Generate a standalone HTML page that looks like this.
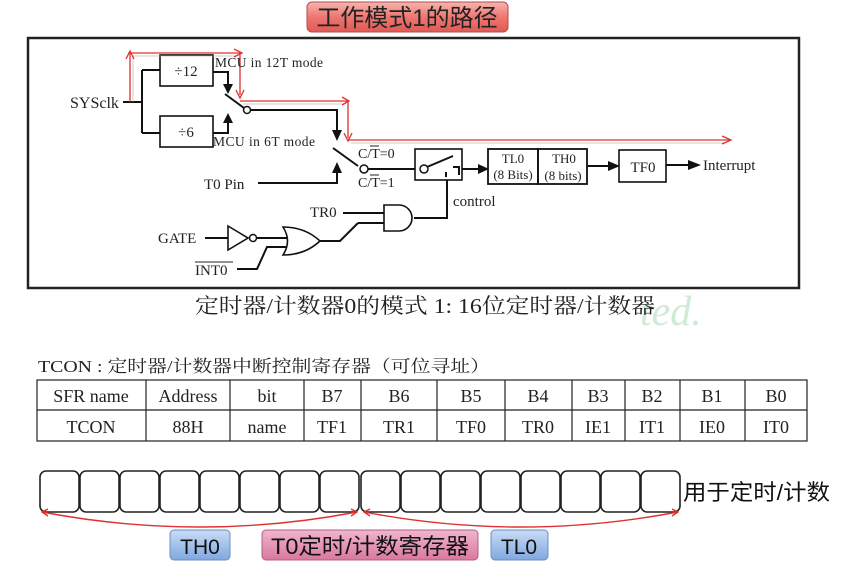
<!DOCTYPE html>
<html><head><meta charset="utf-8"><style>
html,body{margin:0;padding:0;background:#fff;}
svg{display:block;}
.t{font-family:"Liberation Serif","Noto Serif CJK SC",serif;fill:#222;}
.c{font-family:"Liberation Sans","Noto Sans CJK SC",sans-serif;}
</style></head><body>
<svg width="841" height="564" viewBox="0 0 841 564" xmlns="http://www.w3.org/2000/svg">
<defs>
<linearGradient id="rg" x1="0" y1="0" x2="0" y2="1"><stop offset="0" stop-color="#f7b5b0"/><stop offset="0.5" stop-color="#ee7670"/><stop offset="1" stop-color="#e05a55"/></linearGradient>
<linearGradient id="bg" x1="0" y1="0" x2="0" y2="1"><stop offset="0" stop-color="#c9dcf5"/><stop offset="1" stop-color="#7fa8e0"/></linearGradient>
<linearGradient id="pg" x1="0" y1="0" x2="0" y2="1"><stop offset="0" stop-color="#f0b6cc"/><stop offset="1" stop-color="#d9789e"/></linearGradient>
</defs>
<rect x="307" y="2" width="201" height="30" rx="5" fill="url(#rg)" stroke="#b84a45" stroke-width="1"/>
<text x="407" y="26" text-anchor="middle" class="c" font-size="24" fill="#222">工作模式1的路径</text>
<rect x="28" y="38" width="771" height="250" fill="none" stroke="#222" stroke-width="2.5"/>
<g stroke="#111" stroke-width="2" fill="none">
<rect x="160" y="55" width="53" height="31" stroke-width="1.6"/>
<rect x="160" y="116" width="53" height="31" stroke-width="1.6"/>
<path d="M123 102 H142 M142 70 V133 M142 70 H160 M142 133 H160"/>
<path d="M213 72 H228 V86 M213 133 H228 V121"/>
<path d="M225 94 L244 108"/>
<path d="M250 110 H337 V132"/>
<path d="M333 148 L358 166"/>
<path d="M258 183 H337 V170"/>
<path d="M368 169 H415"/>
<rect x="415" y="149" width="47" height="31" stroke-width="1.6"/>
<path d="M427 167 L453 156 M446 172 V177 M453 167 H459 V175"/>
<path d="M462 169 H478"/>
<rect x="488" y="149" width="50" height="35" stroke-width="1.8"/>
<rect x="538" y="149" width="49" height="35" stroke-width="1.8"/>
<path d="M587 166 H609"/>
<rect x="619" y="150" width="47" height="32" stroke-width="1.6"/>
<path d="M666 165 H690"/>
<path d="M414 218 H447 V180"/>
<path d="M343 213 H384 M358 223 H384 M320 241 H340 L358 223"/>
<path d="M384 205 H399 A13 13 0 0 1 399 231 H384 Z" stroke-width="1.6"/>
<path d="M205 238 H228"/>
<path d="M228 226 L248 238 L228 250 Z" stroke-width="1.6"/>
<circle cx="253" cy="238" r="3.5" stroke-width="1.5"/>
<path d="M257 238 H287"/>
<path d="M283 227 Q305 227 320 241 Q305 255 283 255 Q292 241 283 227 Z" stroke-width="1.6"/>
<path d="M287 247 H267 L257 269 H237"/>
</g>
<g fill="#111">
<path d="M223 84 L233 84 L228 94 Z"/>
<path d="M223 123 L233 123 L228 113 Z"/>
<path d="M332 130 L342 130 L337 141 Z"/>
<path d="M332 173 L342 173 L337 162 Z"/>
<path d="M478 164 L489 169 L478 174 Z"/>
<path d="M608 161 L620 166 L608 171 Z"/>
<path d="M688 160 L701 165 L688 170 Z"/>
</g>
<circle cx="247" cy="110" r="3.5" fill="#fff" stroke="#111" stroke-width="1.5"/>
<circle cx="364" cy="169" r="4" fill="#fff" stroke="#111" stroke-width="1.5"/>
<circle cx="424" cy="169" r="4" fill="#fff" stroke="#111" stroke-width="1.5"/>
<g stroke="#e03030" stroke-width="1.3" fill="none">
<path d="M130 102 V53 H240 V95"/>
<path d="M240 101 H348 V138"/>
<path d="M348 140 H730"/>
</g>
<g stroke="#aaa" stroke-width="1" fill="none" opacity="0.6"><path d="M133 102 V56 H237 M243 104 H345 M351 143 H726"/></g>
<g fill="none" stroke="#e03030" stroke-width="1.3">
<path d="M126 59 L130 51 L134 59"/><path d="M234 49 L242 53 L234 57"/>
<path d="M236 90 L240 98 L244 90"/><path d="M342 97 L349 101 L342 105"/>
<path d="M344 133 L348 141 L352 133"/><path d="M722 136 L731 140 L722 144"/>
</g>
<g class="t">
<text x="70" y="108" font-size="16">SYSclk</text>
<text x="186" y="76" font-size="15" text-anchor="middle">÷12</text>
<text x="186" y="137" font-size="15" text-anchor="middle">÷6</text>
<text x="215" y="67" font-size="13.5" textLength="108">MCU in 12T mode</text>
<text x="213" y="146" font-size="13.5" textLength="102">MCU in 6T mode</text>
<text x="358" y="158" font-size="14">C/T=0</text>
<line x1="370" y1="146" x2="379" y2="146" stroke="#222" stroke-width="1"/>
<text x="358" y="187" font-size="14">C/T=1</text>
<line x1="370" y1="175" x2="379" y2="175" stroke="#222" stroke-width="1"/>
<text x="204" y="189" font-size="15">T0 Pin</text>
<text x="513" y="163" font-size="13" text-anchor="middle">TL0</text>
<text x="513" y="179" font-size="13" text-anchor="middle">(8 Bits)</text>
<text x="564" y="163" font-size="13" text-anchor="middle">TH0</text>
<text x="563" y="180" font-size="13" text-anchor="middle">(8 bits)</text>
<text x="643" y="172" font-size="15" text-anchor="middle">TF0</text>
<text x="703" y="170" font-size="15">Interrupt</text>
<text x="453" y="206" font-size="15">control</text>
<text x="310" y="217" font-size="15">TR0</text>
<text x="158" y="243" font-size="15">GATE</text>
<text x="195" y="275" font-size="15">INT0</text>
<line x1="195" y1="262" x2="233" y2="262" stroke="#222" stroke-width="1"/>
</g>
<text x="640" y="325" font-size="42" font-style="italic" class="t" style="fill:#cfead5">ted.</text>
<text x="195" y="313" font-size="21" class="t" textLength="460" lengthAdjust="spacingAndGlyphs">定时器/计数器0的模式 1: 16位定时器/计数器</text>
<text x="38" y="372" font-size="17" class="t" textLength="452" lengthAdjust="spacingAndGlyphs">TCON : 定时器/计数器中断控制寄存器（可位寻址）</text>
<g stroke="#222" stroke-width="1.2" fill="none">
<rect x="37" y="380" width="770" height="61"/>
<line x1="37" y1="410" x2="807" y2="410"/>
<path d="M146 380V441 M230 380V441 M304 380V441 M361 380V441 M437 380V441 M505 380V441 M572 380V441 M625 380V441 M680 380V441 M745 380V441"/>
</g>
<g class="t" font-size="18" text-anchor="middle">
<text x="91" y="402">SFR name</text><text x="188" y="402">Address</text><text x="267" y="402">bit</text><text x="332" y="402">B7</text><text x="399" y="402">B6</text><text x="471" y="402">B5</text><text x="538" y="402">B4</text><text x="598" y="402">B3</text><text x="652" y="402">B2</text><text x="712" y="402">B1</text><text x="776" y="402">B0</text>
<text x="91" y="433">TCON</text><text x="188" y="433">88H</text><text x="267" y="433">name</text><text x="332" y="433">TF1</text><text x="399" y="433">TR1</text><text x="471" y="433">TF0</text><text x="538" y="433">TR0</text><text x="598" y="433">IE1</text><text x="652" y="433">IT1</text><text x="712" y="433">IE0</text><text x="776" y="433">IT0</text>
</g>
<g stroke="#222" stroke-width="1.6" fill="#fff">
<rect x="40" y="471" width="39" height="41" rx="6"/><rect x="80" y="471" width="39" height="41" rx="6"/><rect x="120" y="471" width="39" height="41" rx="6"/><rect x="160" y="471" width="39" height="41" rx="6"/>
<rect x="200" y="471" width="39" height="41" rx="6"/><rect x="240" y="471" width="39" height="41" rx="6"/><rect x="280" y="471" width="39" height="41" rx="6"/><rect x="320" y="471" width="39" height="41" rx="6"/>
<rect x="361" y="471" width="39" height="41" rx="6"/><rect x="401" y="471" width="39" height="41" rx="6"/><rect x="441" y="471" width="39" height="41" rx="6"/><rect x="481" y="471" width="39" height="41" rx="6"/>
<rect x="521" y="471" width="39" height="41" rx="6"/><rect x="561" y="471" width="39" height="41" rx="6"/><rect x="601" y="471" width="39" height="41" rx="6"/><rect x="641" y="471" width="39" height="41" rx="6"/>
</g>
<text x="683" y="500" font-size="22" class="c" fill="#111" textLength="147" lengthAdjust="spacingAndGlyphs">用于定时/计数</text>
<g stroke="#e03030" stroke-width="1.4" fill="none">
<path d="M42 512 Q200 542 357 512"/><path d="M364 512 Q520 542 678 512"/>
<path d="M48 509 L42 512 L48 516 M351 509 L357 512 L351 516 M370 509 L364 512 L370 516 M672 509 L678 512 L672 516"/>
</g>
<rect x="170" y="530" width="60" height="30" rx="4" fill="url(#bg)" stroke="#6f8fc0"/>
<text x="200" y="554" text-anchor="middle" font-size="21" class="c" fill="#111">TH0</text>
<rect x="262" y="530" width="216" height="30" rx="4" fill="url(#pg)" stroke="#b0607e"/>
<text x="271" y="554" font-size="22" class="c" fill="#111" textLength="198" lengthAdjust="spacingAndGlyphs">T0定时/计数寄存器</text>
<rect x="491" y="530" width="57" height="30" rx="4" fill="url(#bg)" stroke="#6f8fc0"/>
<text x="519" y="554" text-anchor="middle" font-size="21" class="c" fill="#111">TL0</text>
</svg>
</body></html>
